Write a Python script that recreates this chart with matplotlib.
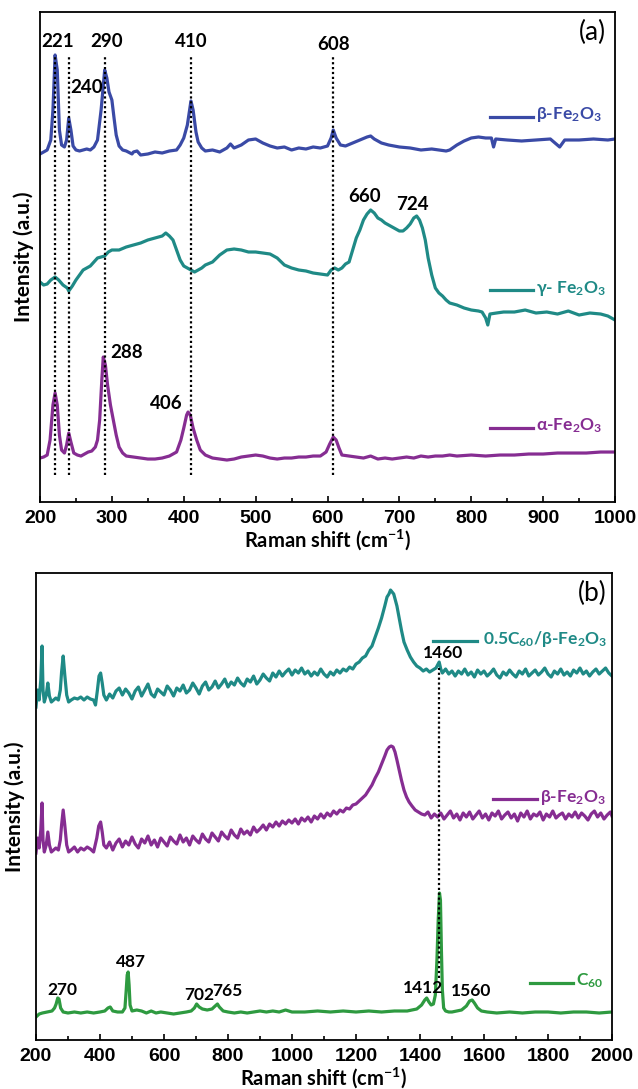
import matplotlib
matplotlib.use("Agg")
import matplotlib.pyplot as plt
from matplotlib.ticker import MultipleLocator

plt.rcParams['font.family'] = ['Lato', 'DejaVu Sans']
plt.rcParams['font.weight'] = 'bold'
plt.rcParams['mathtext.fontset'] = 'custom'
plt.rcParams['mathtext.rm'] = 'Lato:bold'
plt.rcParams['mathtext.bf'] = 'Lato:bold'
plt.rcParams['mathtext.it'] = 'Lato:bold'
plt.rcParams['mathtext.default'] = 'bf'

# ---------------- Panel (a) data ----------------
beta_a_x = [200, 205, 210, 215, 218, 221, 224, 227, 230, 234, 237, 240, 243, 246, 250, 255, 260, 265, 270, 275,
            280, 285, 290, 293, 296, 300, 303, 306, 310, 315, 320, 328, 330, 335, 340, 350, 360, 370, 380, 390,
            395, 400, 405, 410, 413, 417, 420, 425, 430, 440, 450, 460, 465, 470, 480, 490, 500, 510, 520, 530,
            540, 550, 560, 570, 580, 590, 600, 605, 608, 612, 618, 625, 635, 645, 655, 660, 665, 675, 685, 700,
            715, 730, 745, 755, 765, 770, 780, 790, 800, 810, 820, 828, 831, 834, 850, 870, 890, 910, 923, 930,
            950, 970, 990, 1000]
beta_a_y = [348, 350, 352, 362, 392, 447, 432, 372, 357, 355, 362, 384, 372, 356, 352, 351, 352, 353, 352, 355,
            362, 392, 432, 424, 410, 402, 384, 367, 356, 352, 351, 348, 350, 351, 347, 348, 350, 349, 351, 352,
            357, 364, 377, 401, 392, 370, 360, 354, 351, 352, 350, 354, 358, 354, 357, 362, 363, 359, 356, 354,
            355, 352, 354, 353, 355, 354, 356, 364, 372, 364, 357, 356, 359, 362, 365, 366, 363, 359, 357, 355,
            354, 352, 353, 352, 351, 352, 357, 361, 364, 365, 364, 364, 355, 363, 362, 361, 362, 363, 355, 362,
            362, 363, 362, 363]

gamma_a_x = [200, 205, 210, 215, 221, 226, 232, 238, 240, 245, 250, 255, 260, 265, 270, 275, 280, 285, 290, 295,
             300, 310, 320, 330, 340, 350, 360, 370, 375, 380, 385, 390, 395, 400, 405, 410, 415, 420, 425, 430,
             440, 450, 460, 470, 480, 490, 500, 510, 520, 530, 540, 550, 560, 570, 580, 590, 600, 605, 610, 615,
             620, 625, 630, 635, 640, 645, 650, 655, 660, 665, 670, 675, 680, 690, 700, 705, 710, 715, 720, 724,
             728, 732, 736, 740, 745, 750, 755, 760, 765, 770, 780, 790, 800, 810, 815, 820, 823, 826, 835, 845,
             860, 875, 890, 905, 920, 935, 950, 965, 980, 990, 1000]
gamma_a_y = [220, 217, 218, 222, 225, 222, 217, 214, 211, 216, 222, 227, 232, 234, 236, 240, 244, 245, 246, 250,
             252, 252, 255, 257, 259, 262, 264, 266, 269, 266, 262, 252, 242, 236, 234, 232, 230, 232, 234, 237,
             240, 247, 252, 253, 252, 250, 250, 249, 248, 244, 237, 234, 232, 231, 229, 228, 227, 232, 234, 232,
             234, 238, 240, 252, 264, 272, 282, 288, 292, 289, 284, 282, 279, 275, 271, 271, 274, 278, 284, 286,
             282, 274, 262, 244, 227, 214, 209, 206, 202, 199, 197, 194, 192, 191, 190, 184, 177, 188, 189, 190,
             190, 192, 189, 190, 188, 191, 187, 189, 188, 186, 182]

alpha_a_x = [200, 205, 210, 214, 218, 221, 224, 227, 230, 234, 237, 240, 243, 247, 252, 257, 262, 267, 272, 277,
             280, 283, 286, 288, 291, 294, 298, 302, 306, 310, 315, 320, 330, 340, 350, 360, 370, 380, 390, 396,
             400, 404, 406, 409, 413, 418, 423, 430, 440, 450, 460, 470, 480, 490, 500, 510, 520, 530, 540, 550,
             560, 570, 580, 590, 598, 603, 608, 612, 616, 620, 630, 640, 650, 660, 670, 680, 690, 700, 710, 720,
             730, 740, 750, 760, 770, 780, 800, 820, 840, 860, 880, 900, 920, 940, 960, 980, 1000]
alpha_a_y = [44, 45, 47, 62, 97, 109, 97, 67, 52, 49, 57, 69, 60, 49, 47, 46, 48, 50, 51, 55,
             62, 82, 122, 145, 137, 117, 97, 82, 67, 55, 49, 46, 45, 44, 43, 43, 44, 46, 50, 62,
             74, 87, 90, 87, 74, 62, 52, 47, 44, 43, 42, 43, 45, 46, 47, 46, 44, 43, 44, 44,
             45, 45, 46, 46, 50, 58, 65, 62, 54, 47, 46, 45, 44, 46, 43, 44, 43, 44, 45, 44,
             46, 45, 46, 46, 47, 46, 47, 46, 47, 47, 48, 48, 49, 49, 49, 50, 50]

lines_a = [221, 240, 290, 410, 608]
peak_labels_a = ["221", "240", "290", "410", "608", "660", "724", "288", "406"]
peak_label_pos_a = [(224, 460), (265, 414), (292, 460), (410, 460), (608, 457),
                    (652, 305), (718, 297), (320, 150), (375, 99)]
legend_a = [r"$\beta$-Fe$_2$O$_3$", r"$\gamma$- Fe$_2$O$_3$", r"$\alpha$-Fe$_2$O$_3$"]
legend_a_y = [385, 212, 74]

# ---------------- Panel (b) data: (Raman shift, intensity) ----------------
comp_b = [(200, 333), (205, 350), (210, 340), (215, 360), (219, 394), (222, 350), (226, 338), (232, 345),
          (237, 357), (242, 344), (248, 338), (255, 340), (262, 342), (270, 340), (276, 350), (280, 368),
          (285, 384), (290, 365), (296, 345), (302, 338), (310, 340), (320, 342), (330, 341), (340, 343),
          (350, 340), (360, 343), (370, 341), (380, 340), (386, 335), (392, 350), (397, 364), (402, 367),
          (407, 357), (412, 345), (420, 340), (430, 346), (440, 342), (450, 349), (460, 352), (470, 345),
          (480, 351), (490, 347), (500, 341), (510, 349), (520, 353), (530, 344), (540, 350), (550, 356),
          (560, 346), (570, 343), (580, 351), (590, 348), (600, 345), (610, 354), (620, 350), (630, 344),
          (640, 352), (650, 349), (660, 355), (670, 347), (680, 350), (690, 357), (700, 352), (710, 346),
          (720, 354), (730, 358), (740, 350), (750, 353), (760, 359), (770, 352), (780, 356), (790, 361),
          (800, 353), (810, 358), (820, 355), (830, 362), (840, 357), (850, 354), (860, 361), (870, 358),
          (880, 364), (890, 356), (900, 360), (910, 366), (920, 362), (930, 359), (940, 367), (950, 363),
          (960, 369), (970, 364), (980, 368), (990, 371), (1000, 365), (1010, 370), (1020, 367), (1030, 372),
          (1040, 366), (1050, 369), (1060, 364), (1070, 368), (1080, 365), (1090, 371), (1100, 366), (1110, 363),
          (1120, 368), (1130, 365), (1140, 370), (1150, 367), (1160, 371), (1170, 369), (1180, 373), (1190, 371),
          (1200, 376), (1210, 378), (1220, 382), (1230, 384), (1240, 390), (1250, 394), (1260, 403), (1270, 412),
          (1280, 422), (1290, 434), (1297, 443), (1303, 446), (1308, 450), (1313, 448), (1318, 446), (1323, 440),
          (1328, 434), (1335, 422), (1342, 410), (1350, 398), (1360, 390), (1370, 383), (1380, 378), (1390, 374),
          (1400, 372), (1410, 369), (1420, 371), (1430, 368), (1440, 370), (1450, 372), (1460, 378), (1465, 371),
          (1470, 367), (1480, 371), (1490, 366), (1500, 369), (1510, 364), (1520, 369), (1530, 366), (1540, 371),
          (1550, 365), (1560, 368), (1570, 363), (1580, 370), (1590, 366), (1600, 369), (1610, 364), (1620, 367),
          (1630, 371), (1640, 365), (1650, 362), (1660, 368), (1670, 365), (1680, 370), (1690, 366), (1700, 363),
          (1710, 369), (1720, 366), (1730, 371), (1740, 364), (1750, 367), (1760, 370), (1770, 365), (1780, 368),
          (1790, 372), (1800, 366), (1810, 363), (1820, 369), (1830, 366), (1840, 371), (1850, 365), (1860, 368),
          (1870, 364), (1880, 370), (1890, 367), (1900, 372), (1910, 366), (1920, 369), (1930, 364), (1940, 368),
          (1950, 371), (1960, 366), (1970, 369), (1980, 372), (1990, 367), (2000, 364)]

beta_b = [(200, 187), (205, 202), (210, 192), (215, 210), (219, 237), (222, 200), (226, 188), (232, 195),
          (237, 208), (242, 195), (248, 188), (255, 190), (262, 192), (270, 190), (276, 200), (280, 215),
          (285, 230), (290, 215), (296, 195), (302, 188), (310, 190), (320, 193), (330, 188), (340, 192),
          (350, 190), (360, 193), (370, 191), (380, 188), (390, 202), (396, 214), (402, 218), (407, 208),
          (412, 195), (420, 192), (430, 198), (440, 190), (450, 197), (460, 201), (470, 193), (480, 199),
          (490, 195), (500, 203), (510, 196), (520, 192), (530, 201), (540, 197), (550, 204), (560, 195),
          (570, 200), (580, 193), (590, 202), (600, 198), (610, 194), (620, 203), (630, 199), (640, 196),
          (650, 205), (660, 198), (670, 202), (680, 195), (690, 204), (700, 200), (710, 197), (720, 206),
          (730, 201), (740, 198), (750, 207), (760, 203), (770, 199), (780, 208), (790, 204), (800, 201),
          (810, 210), (820, 205), (830, 202), (840, 211), (850, 206), (860, 209), (870, 205), (880, 213),
          (890, 208), (900, 211), (910, 215), (920, 210), (930, 216), (940, 213), (950, 218), (960, 214),
          (970, 219), (980, 216), (990, 220), (1000, 217), (1010, 221), (1020, 216), (1030, 222), (1040, 219),
          (1050, 223), (1060, 218), (1070, 224), (1080, 221), (1090, 226), (1100, 222), (1110, 227), (1120, 224),
          (1130, 229), (1140, 226), (1150, 230), (1160, 228), (1170, 232), (1180, 231), (1190, 235), (1200, 236),
          (1210, 239), (1220, 242), (1230, 245), (1240, 250), (1250, 255), (1260, 262), (1270, 268), (1280, 276),
          (1290, 284), (1297, 290), (1304, 293), (1310, 294), (1316, 293), (1322, 288), (1328, 280), (1335, 270),
          (1342, 260), (1350, 250), (1358, 243), (1366, 238), (1375, 234), (1385, 230), (1395, 228), (1405, 226),
          (1415, 225), (1425, 228), (1435, 222), (1445, 226), (1455, 223), (1465, 227), (1475, 221), (1485, 225),
          (1495, 229), (1505, 222), (1515, 226), (1525, 220), (1535, 227), (1545, 223), (1555, 228), (1565, 221),
          (1575, 225), (1585, 229), (1595, 222), (1605, 226), (1615, 220), (1625, 227), (1635, 224), (1645, 229),
          (1655, 221), (1665, 225), (1675, 228), (1685, 222), (1695, 226), (1705, 219), (1715, 227), (1725, 223),
          (1735, 229), (1745, 221), (1755, 226), (1765, 224), (1775, 228), (1785, 220), (1795, 226), (1805, 223),
          (1815, 229), (1825, 222), (1835, 225), (1845, 227), (1855, 221), (1865, 226), (1875, 223), (1885, 228),
          (1895, 222), (1905, 227), (1915, 224), (1925, 220), (1935, 226), (1945, 229), (1955, 223), (1965, 227),
          (1975, 221), (1985, 225), (1995, 228), (2000, 224)]

c60_b_x = [200, 210, 220, 235, 250, 258, 263, 268, 272, 277, 285, 300, 320, 340, 360, 380, 400, 415, 425, 432,
           440, 455, 470, 478, 482, 485, 488, 491, 494, 500, 515, 530, 545, 560, 575, 590, 610, 630, 650, 670,
           685, 695, 702, 710, 720, 735, 750, 760, 767, 773, 785, 800, 820, 840, 860, 880, 900, 920, 940, 960,
           980, 1000, 1040, 1080, 1120, 1160, 1200, 1240, 1280, 1320, 1360, 1390, 1405, 1415, 1421, 1428, 1435, 1442, 1448, 1453,
           1457, 1461, 1464, 1467, 1470, 1474, 1480, 1490, 1500, 1515, 1530, 1545, 1555, 1563, 1570, 1580, 1592, 1610, 1640, 1680,
           1720, 1760, 1800, 1840, 1880, 1920, 1960, 2000]
c60_b_y = [23, 26, 27, 28, 29, 32, 36, 42, 41, 32, 28, 27, 28, 27, 28, 27, 28, 29, 32, 33,
           29, 28, 28, 32, 50, 65, 68, 55, 35, 29, 30, 29, 27, 29, 27, 28, 27, 26, 27, 28,
           29, 32, 36, 33, 31, 30, 31, 34, 36, 33, 29, 28, 27, 28, 27, 28, 29, 28, 29, 28,
           30, 28, 28, 29, 28, 29, 28, 29, 28, 29, 29, 31, 35, 40, 42, 38, 35, 36, 45, 80,
           120, 147, 140, 90, 50, 32, 29, 28, 28, 29, 30, 34, 39, 40, 37, 32, 29, 28, 27, 28,
           27, 28, 28, 27, 28, 28, 27, 28]

line_b = 1460
peak_labels_b = ["1460", "270", "487", "702", "765", "1412", "1560"]
peak_label_pos_b = [(1472, 387), (281, 50), (497, 78), (709, 45), (797, 49), (1409, 52), (1559, 49)]
legend_b = [r"0.5C$_{60}$/$\beta$-Fe$_2$O$_3$", r"$\beta$-Fe$_2$O$_3$", r"C$_{60}$"]

# colours
c_blue = '#3a4aa6'
c_teal = '#1f8a86'
c_purple = '#862d92'
c_green = '#2e9a40'

fig = plt.figure(figsize=(6.38, 10.89), dpi=100)
axa = fig.add_axes([0.0627, 0.539, 0.9013, 0.450])
axb = fig.add_axes([0.0564, 0.045, 0.9028, 0.4288])

lw = 2.3
dot = dict(color='black', lw=1.6, linestyle=(0, (1, 1.2)))
lab_font = ['Lato', 'DejaVu Sans']

# ---- panel (a)
axa.plot(beta_a_x, beta_a_y, color=c_blue, lw=lw, solid_joinstyle='round')
axa.plot(gamma_a_x, gamma_a_y, color=c_teal, lw=lw, solid_joinstyle='round')
axa.plot(alpha_a_x, alpha_a_y, color=c_purple, lw=lw, solid_joinstyle='round')
for xv in lines_a:
    axa.plot([xv, xv], [27, 445], **dot)
for t, (px, py) in zip(peak_labels_a, peak_label_pos_a):
    axa.text(px, py, t, ha='center', va='center', fontsize=13.5, fontweight='bold', color='black')
for lab, yv, col in zip(legend_a, legend_a_y, [c_blue, c_teal, c_purple]):
    axa.plot([826, 886], [yv, yv], color=col, lw=lw)
    axa.text(890, yv + 2, lab, ha='left', va='center', fontsize=12.5, fontweight='bold', color=col)
axa.text(968, 470, "(a)", ha='center', va='center', fontsize=19, fontweight='normal', color='black')
axa.set_xlim(200, 1000)
axa.set_ylim(0, 490)
axa.xaxis.set_major_locator(MultipleLocator(100))
axa.xaxis.set_minor_locator(MultipleLocator(50))
axa.set_xlabel(r"Raman shift (cm$^{-1}$)", fontsize=14.5, fontweight='bold', labelpad=0)
axa.set_ylabel("Intensity (a.u.)", fontsize=15, fontweight='bold', labelpad=4)

# ---- panel (b)
bx, by = zip(*comp_b)
axb.plot(bx, by, color=c_teal, lw=lw, solid_joinstyle='round')
bx, by = zip(*beta_b)
axb.plot(bx, by, color=c_purple, lw=lw, solid_joinstyle='round')
axb.plot(c60_b_x, c60_b_y, color=c_green, lw=lw, solid_joinstyle='round')
axb.plot([line_b, line_b], [62, 372], **dot)
for t, (px, py) in zip(peak_labels_b, peak_label_pos_b):
    axb.text(px, py, t, ha='center', va='center', fontsize=12.5, fontweight='bold', color='black')
legend_b_seg = [(1441, 1578, 399, 1597), (1628, 1766, 241, 1775), (1744, 1878, 57, 1887)]
for lab, (x0, x1, yv, xt), col in zip(legend_b, legend_b_seg, [c_teal, c_purple, c_green]):
    axb.plot([x0, x1], [yv, yv], color=col, lw=lw)
    axb.text(xt, yv + 2, lab, ha='left', va='center', fontsize=12.5, fontweight='bold', color=col)
axb.text(1937, 447, "(b)", ha='center', va='center', fontsize=19, fontweight='normal', color='black')
axb.set_xlim(200, 2000)
axb.set_ylim(0, 467)
axb.xaxis.set_major_locator(MultipleLocator(200))
axb.xaxis.set_minor_locator(MultipleLocator(100))
axb.set_xlabel(r"Raman shift (cm$^{-1}$)", fontsize=14.5, fontweight='bold', labelpad=0)
axb.set_ylabel("Intensity (a.u.)", fontsize=15, fontweight='bold', labelpad=8)

for ax in (axa, axb):
    ax.set_yticks([])
    ax.tick_params(axis='x', which='major', direction='in', length=4, width=1.2,
                   labelsize=14, pad=6)
    ax.tick_params(axis='x', which='minor', direction='in', length=3, width=1.2)
    for lbl in ax.get_xticklabels():
        lbl.set_fontweight('bold')
        lbl.set_fontfamily(['Liberation Sans', 'DejaVu Sans'])
    for s in ax.spines.values():
        s.set_linewidth(1.3)

fig.savefig("out.png", dpi=100)
